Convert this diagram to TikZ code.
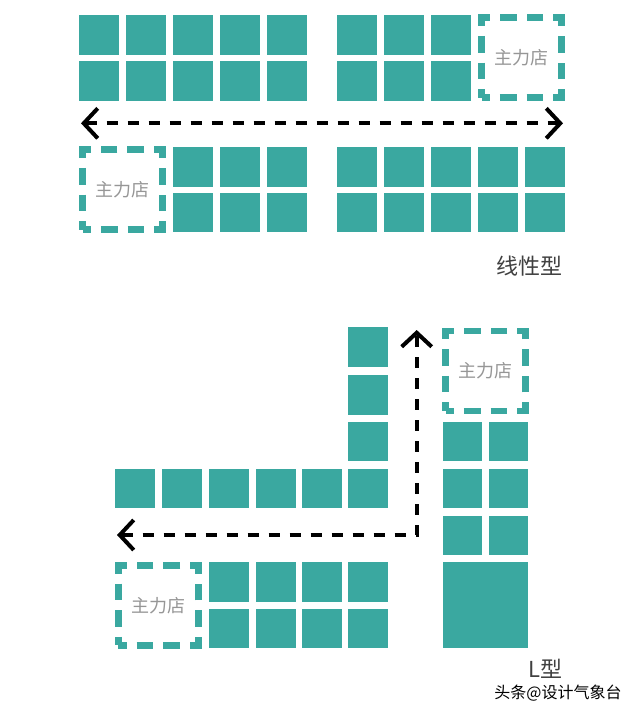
\documentclass[tikz,border=0pt]{standalone}
\usepackage{fontspec}
\setmainfont{Noto Sans CJK SC}
\usetikzlibrary{arrows.meta}

\definecolor{shopteal}{RGB}{58,168,160}
\definecolor{anchorgray}{RGB}{150,150,150}
\definecolor{labelgray}{RGB}{64,64,64}

\tikzset{
  shop/.style={fill=shopteal},
  anchorstore/.style={draw=shopteal, line width=6.5pt,
    dash pattern=on 16.667pt off 10pt, dash phase=8.333pt,
    minimum width=80pt, minimum height=80pt, inner sep=0pt,
    text=anchorgray, font=\fontsize{18}{18}\selectfont},
  walkway/.style={line width=4pt, dash pattern=on 11pt off 10pt,
    arrows={Straight Barb[length=14pt,width=30pt]-Straight Barb[length=14pt,width=30pt]}},
  typelabel/.style={text=labelgray, font=\fontsize{22}{22}\selectfont, inner sep=0pt},
}

\begin{document}
\begin{tikzpicture}[x=1pt, y=-1pt]
            \fill[white] (0,0) rectangle (640,713);%
            \useasboundingbox (0,0) rectangle (640,713);%

            % Drawing shops, linear type, north side
            \foreach \x in {79,126,173,220,267,337,384,431}
              \foreach \y in {15,61}
                \fill[shop] (\x,\y) rectangle ++(40,39.5);%

            % Drawing shops, linear type, south side
            \foreach \x in {173,220,267,337,384,431,478,525}
              \foreach \y in {147,192.5}
                \fill[shop] (\x,\y) rectangle ++(40,39.5);%

            % Marking anchor stores, linear type
            \node[anchorstore] (anchorNE) at (521.5,57.5) {主力店};%
            \node[anchorstore] (anchorSW) at (122.5,189.5) {主力店};%

            % Drawing walkway, linear type
            \coordinate (walkW) at (81,123.3);%
            \coordinate (walkE) at (563,123.3);%
            \draw[walkway] (walkW) -- (walkE);%

            % Marking type linear
            \node[typelabel, anchor=east] (linearlabel) at (563,266) {线性型};%

            % Drawing shops, L type, vertical arm
            \foreach \y in {327.3,375,421.7}
              \fill[shop] (348.3,\y) rectangle ++(40,39.5);%

            % Drawing shops, L type, horizontal arm
            \foreach \x in {115,162.3,209.3,256.3,302.3,348.3}
              \fill[shop] (\x,468.7) rectangle ++(40,39);%

            % Drawing shops, L type, lower block
            \foreach \x in {209.3,256.3,302.3,348.3}
              \foreach \y in {562.3,609}
                \fill[shop] (\x,\y) rectangle ++(40,39.3);%

            % Drawing shops, L type, right column
            \foreach \x in {442.7,489}
              \foreach \y in {421.7,468.7,515.7}
                \fill[shop] (\x,\y) rectangle ++(39.3,39);%
            \fill[shop] (442.7,562.3) rectangle (528.3,648.3);%

            % Marking anchor stores, L type
            \node[anchorstore] (anchorL1) at (485.5,370.8) {主力店};%
            \node[anchorstore] (anchorL2) at (158.4,605.3) {主力店};%

            % Drawing walkway, L type
            \coordinate (walkLW) at (117,535);%
            \coordinate (walkLbend) at (416.7,535);%
            \coordinate (walkLN) at (416.7,330);%
            \draw[walkway] (walkLW) -- (walkLbend) -- (walkLN);%

            % Marking type L
            \node[typelabel, anchor=east] (Llabel) at (563,669) {L型};%

            % Marking watermark
            \node[inner sep=0pt, font=\fontsize{16}{16}\selectfont] (watermark) at (558,693) {头条@设计气象台};%
\end{tikzpicture}
\end{document}
